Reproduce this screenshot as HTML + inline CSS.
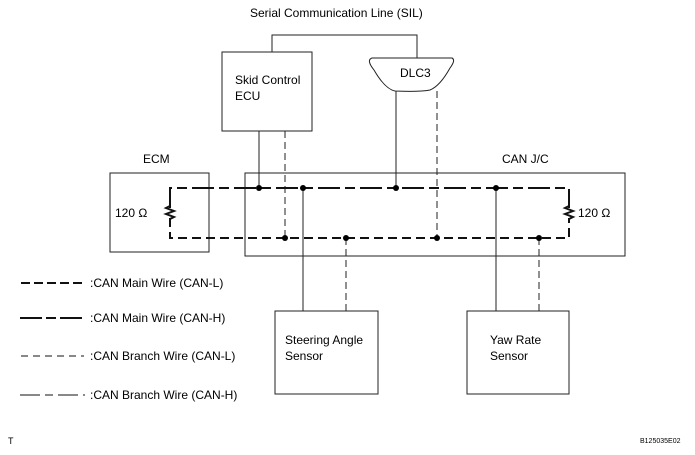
<!DOCTYPE html>
<html><head><style>body{margin:0;background:#fff}svg{display:block}</style></head><body>
<svg width="695" height="455" viewBox="0 0 695 455" xmlns="http://www.w3.org/2000/svg" font-family="Liberation Sans, sans-serif" font-size="12" fill="#000">
<g fill="none" stroke="#222" stroke-width="1">
<rect x="222" y="52" width="90" height="79"/>
<rect x="110" y="173" width="99" height="79"/>
<rect x="245" y="173" width="380" height="83"/>
<rect x="275" y="311" width="103" height="83"/>
<rect x="467" y="311" width="102" height="83"/>
<polyline points="272,52 272,35 417,35 417,58"/>
<path d="M372,58 L452,58 Q456,60 450,68 Q440,86 430,90 Q420,92 395,91 Q385,89 374,70 Q366,60 372,58 Z"/>
<line x1="259" y1="131" x2="259" y2="188"/>
<line x1="396" y1="91" x2="396" y2="188"/>
<line x1="303" y1="188" x2="303" y2="311"/>
<line x1="496" y1="188" x2="496" y2="311"/>
</g>
<g fill="none" stroke="#222" stroke-width="1" stroke-dasharray="7,4">
<line x1="285" y1="131" x2="285" y2="238"/>
<line x1="437" y1="91" x2="437" y2="238"/>
<line x1="346" y1="238" x2="346" y2="311"/>
<line x1="539" y1="238" x2="539" y2="311"/>
</g>
<g fill="none" stroke="#111" stroke-width="2">
<polyline points="170,208 170,188 569,188 569,208" stroke-dasharray="22,5,10,5"/>
<polyline points="170,218 170,238 569,238 569,218" stroke-dasharray="9,5"/>
<polyline points="170,206 166,208 174,211 166,214 174,217 170,219"/>
<polyline points="569,206 565,208 573,211 565,214 573,217 569,219"/>
</g>
<g>
<circle cx="259" cy="188" r="3"/><circle cx="303" cy="188" r="3"/><circle cx="396" cy="188" r="3"/><circle cx="496" cy="188" r="3"/>
<circle cx="285" cy="238" r="3"/><circle cx="346" cy="238" r="3"/><circle cx="437" cy="238" r="3"/><circle cx="539" cy="238" r="3"/>
</g>
<g fill="none" stroke="#111">
<line x1="21" y1="283" x2="84" y2="283" stroke-width="2" stroke-dasharray="9,4"/>
<line x1="20" y1="318" x2="85" y2="318" stroke-width="2" stroke-dasharray="22,4,10,4"/>
<line x1="21" y1="356" x2="84" y2="356" stroke-width="1" stroke-dasharray="7,5"/>
<line x1="20" y1="395" x2="85" y2="395" stroke-width="1" stroke-dasharray="20,5,8,5"/>
</g>
<text x="90" y="287">:CAN Main Wire (CAN-L)</text>
<text x="90" y="322">:CAN Main Wire (CAN-H)</text>
<text x="90" y="360">:CAN Branch Wire (CAN-L)</text>
<text x="90" y="399">:CAN Branch Wire (CAN-H)</text>
<text x="250" y="17">Serial Communication Line (SIL)</text>
<text x="235" y="84">Skid Control</text>
<text x="235" y="100">ECU</text>
<text x="400" y="77">DLC3</text>
<text x="143" y="163">ECM</text>
<text x="502" y="163">CAN J/C</text>
<text x="115" y="217">120 Ω</text>
<text x="578" y="217">120 Ω</text>
<text x="285" y="344">Steering Angle</text>
<text x="285" y="360">Sensor</text>
<text x="490" y="344">Yaw Rate</text>
<text x="490" y="360">Sensor</text>
<text x="8" y="444" font-size="9">T</text>
<text x="640" y="443" font-size="7">B125035E02</text>
</svg>
</body></html>
